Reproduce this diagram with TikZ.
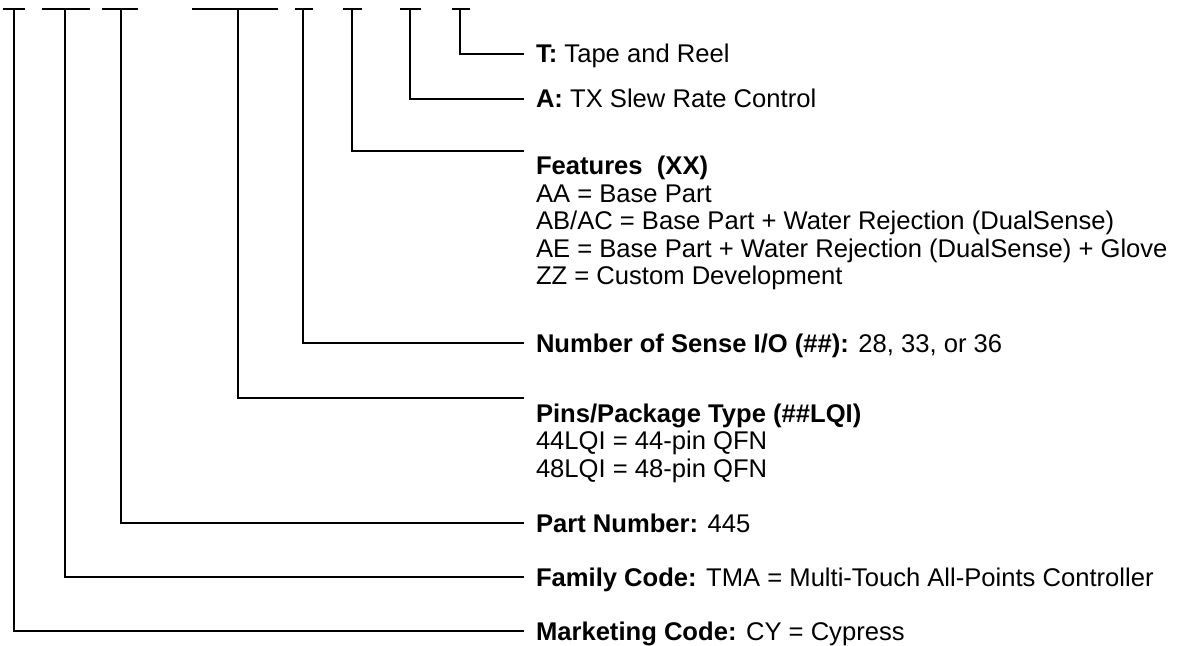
\documentclass[tikz,border=0pt]{standalone}
\usepackage{fontspec}
\setmainfont{Liberation Sans}
\begin{document}
\begin{tikzpicture}[x=0.5pt,y=-0.5pt,line width=1pt,
  lbl/.style={anchor=base west,inner sep=0pt,font=\fontsize{12.8}{13.75}\selectfont},
  conn/.style={draw=black,line width=0.9pt}]
\useasboundingbox (0,0) rectangle (1186,646);
% top bars of the part number
\foreach \n/\a/\b/\v in {M/3/25/14, F/42/90/65, P/102/138/121, K/192/278/238, N/295/313/303, X/343/362/352, A/400/421/410, T/452/470/460} {
  \draw[conn] (\a,9) -- (\b,9);
  \coordinate (top\n) at (\v,9);
}
% connector ends
\coordinate (endT) at (524,54);
\coordinate (endA) at (524,99);
\coordinate (endX) at (524,151);
\coordinate (endN) at (524,343);
\coordinate (endK) at (524,398);
\coordinate (endP) at (524,523);
\coordinate (endF) at (524,577);
\coordinate (endM) at (524,631);
% labels
\node[lbl] (lblT) at (535,63) {\textbf{T:} Tape and Reel};
\node[lbl] (lblA) at (535,108) {\textbf{A:} TX Slew Rate Control};
\node[lbl] (lblX) at (535,175) {\begin{tabular}[t]{@{}l@{}}\textbf{Features\ \ (XX)}\\
AA = Base Part\\
AB/AC = Base Part + Water Rejection (DualSense)\\
AE = Base Part + Water Rejection (DualSense) + Glove\\
ZZ = Custom Development\end{tabular}};
\node[lbl] (lblN) at (535,352) {\textbf{Number of Sense I/O (\#\#):} 28, 33, or 36};
\node[lbl] (lblK) at (535,422) {\begin{tabular}[t]{@{}l@{}}\textbf{Pins/Package Type (\#\#LQI)}\\
44LQI = 44-pin QFN\\
48LQI = 48-pin QFN\end{tabular}};
\node[lbl] (lblP) at (535,532) {\textbf{Part Number:} 445};
\node[lbl] (lblF) at (535,586) {\textbf{Family Code:} TMA = Multi-Touch All-Points Controller};
\node[lbl] (lblM) at (535,640) {\textbf{Marketing Code:} CY = Cypress};
% connectors
\foreach \n in {T,A,X,N,K,P,F,M} {
  \draw[conn] (top\n) |- (end\n);
}
\end{tikzpicture}
\end{document}
